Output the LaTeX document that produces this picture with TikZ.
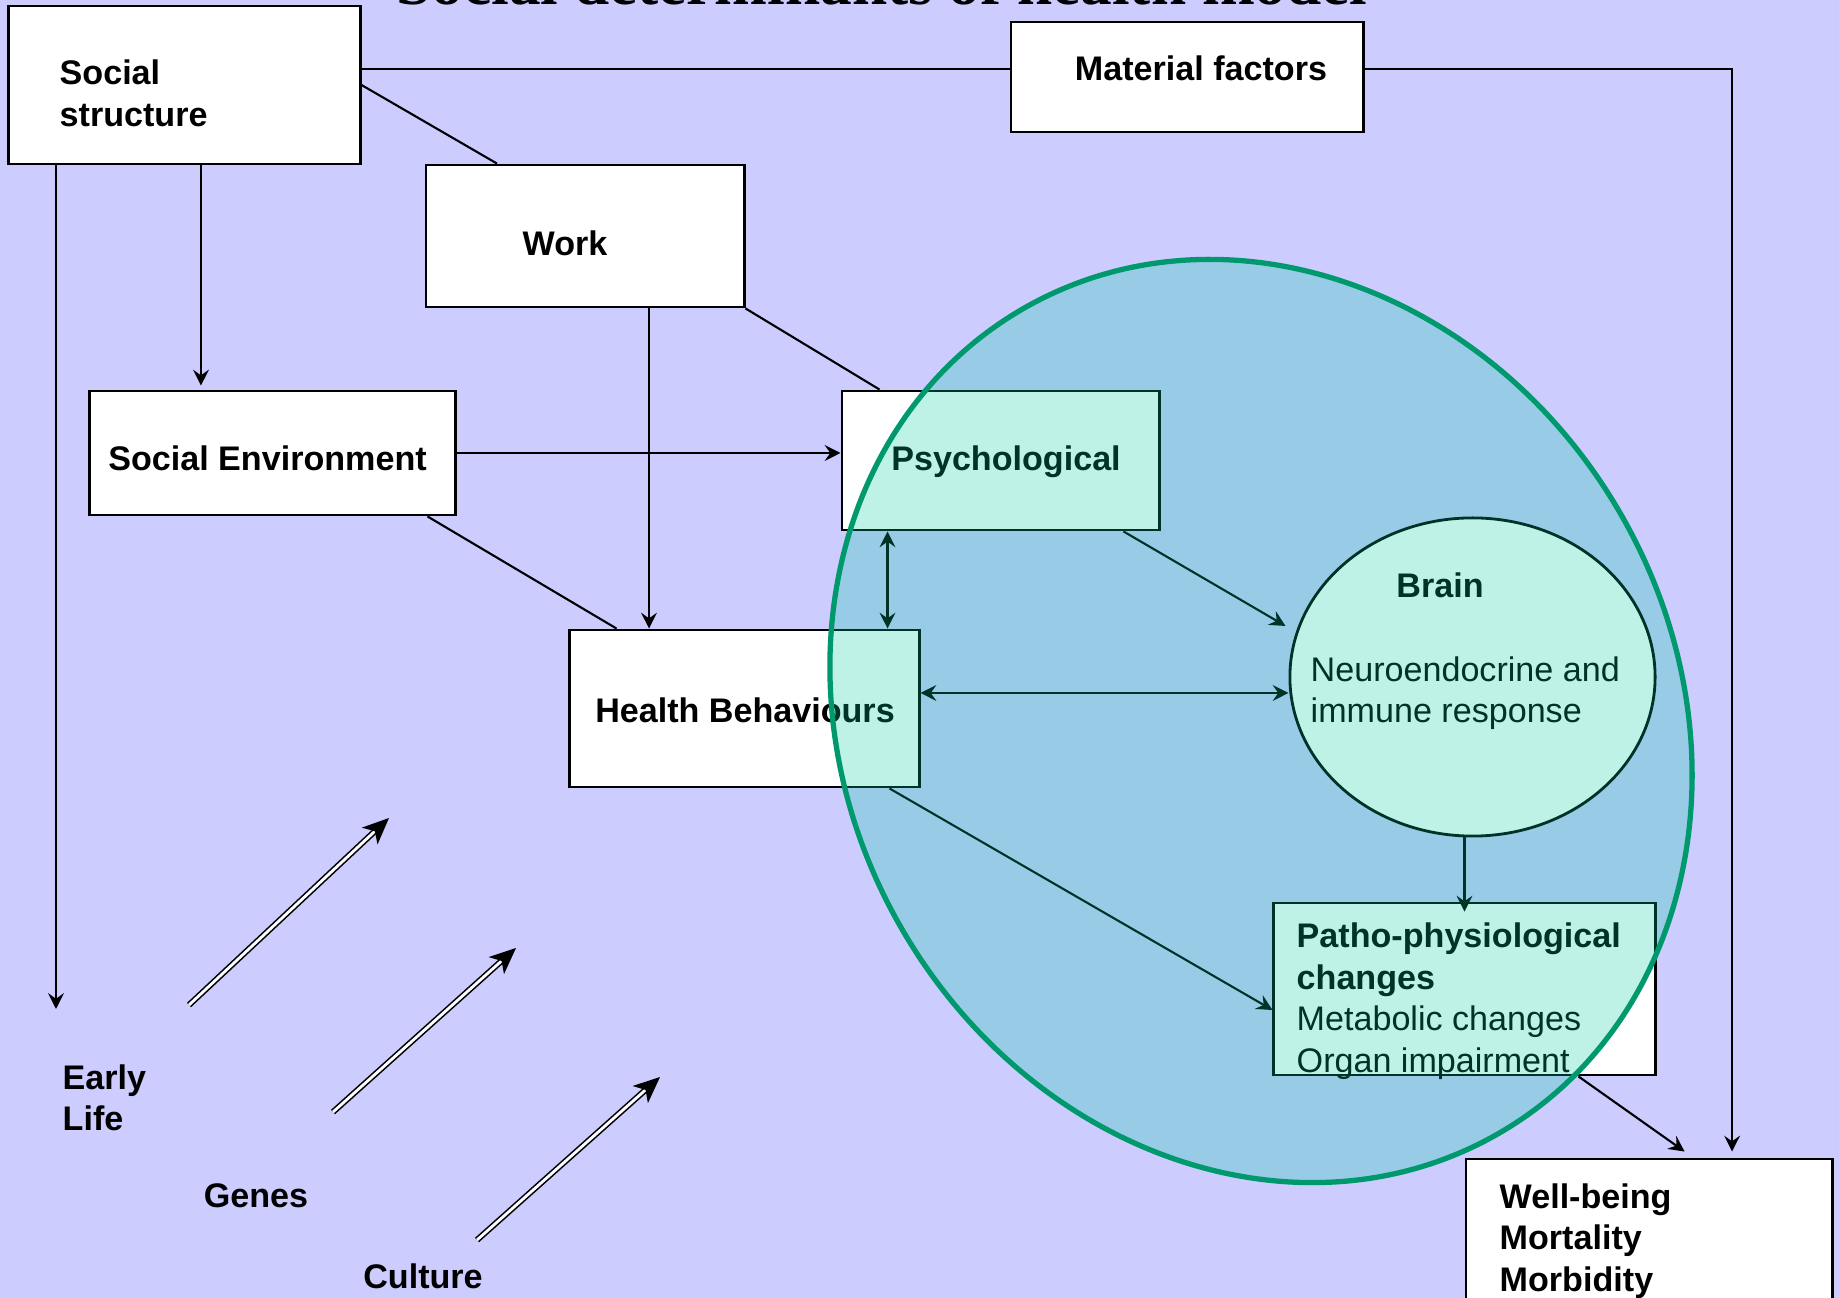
\documentclass[tikz,border=0pt]{standalone}
\usepackage{fontspec}
\setmainfont{Liberation Sans}
\newfontfamily\titlefont{Liberation Serif}
\usetikzlibrary{arrows.meta,shapes.geometric}

\definecolor{backdrop}{HTML}{CCCCFF}
\definecolor{veil}{HTML}{00CC9C}
\definecolor{rim}{HTML}{00996E}

\begin{document}
\begin{tikzpicture}[x=0.01cm, y=-0.01cm,
    box/.style={draw=black, fill=white, line width=0.8pt, inner sep=0pt},
    txt/.style={font=\fontsize{9.7}{11.8}\selectfont\bfseries, align=left, inner sep=0pt},
    normaltxt/.style={font=\fontsize{9.7}{11.8}\selectfont, align=left, inner sep=0pt},
    link/.style={line width=0.6pt},
    arr/.style={link, -{Stealth[length=4.5pt,width=4.5pt,inset=1.6pt]}},
    both/.style={link, {Stealth[length=4.5pt,width=4.5pt,inset=1.6pt]}-{Stealth[length=4.5pt,width=4.5pt,inset=1.6pt]}},
    bigarrow/.style={double, double distance=0.8pt, line width=0.45pt, -{Stealth[length=7.5pt,width=6.5pt,inset=2pt]}}]

\useasboundingbox (0,0) rectangle (1839,1298);
\fill[backdrop] (0,0) rectangle (1839,1298);

% Title (cut off at the top)
\node[font=\titlefont\bfseries\fontsize{18}{20}\selectfont, anchor=base] (title) at (882,5) {Social determinants of health model};

% Boxes
\node[box, minimum width=3.51cm, minimum height=1.58cm] (social) at (184.5,85) {};
\node[box, minimum width=3.52cm, minimum height=1.10cm] (material) at (1187,77) {};
\node[box, minimum width=3.18cm, minimum height=1.42cm] (work) at (585,236) {};
\node[box, minimum width=3.65cm, minimum height=1.24cm] (socenv) at (272.5,453) {};
\node[box, minimum width=3.17cm, minimum height=1.39cm] (psych) at (1000.5,460.5) {};
\node[box, minimum width=3.49cm, minimum height=1.57cm] (health) at (744.5,708.5) {};
\node[box, ellipse, minimum width=3.65cm, minimum height=3.18cm] (brain) at (1472.5,677) {};
\node[box, minimum width=3.81cm, minimum height=1.72cm] (patho) at (1464.5,989) {};
\node[box, minimum width=3.66cm, minimum height=1.61cm] (wellbeing) at (1649,1239.5) {};

% Texts
\node[txt, anchor=west] (social-t) at (59,93.5) {Social\\structure};
\node[txt] (material-t) at (1201,68) {Material factors};
\node[txt] (work-t) at (565,243) {Work};
\node[txt] (socenv-t) at (267.5,458.5) {Social Environment};
\node[txt] (psych-t) at (1006,462) {Psychological};
\node[txt] (health-t) at (745,710) {Health Behaviours};
\node[txt] (brain-t) at (1440,585) {Brain};
\node[normaltxt, anchor=west] (brain-s) at (1310,693) {Neuroendocrine and\\immune response};
\node[normaltxt, anchor=west] (patho-t) at (1296,1001) {\textbf{Patho-physiological}\\\textbf{changes}\\Metabolic changes\\Organ impairment};
\node[txt, anchor=west] (wellbeing-t) at (1499,1241) {Well-being\\Mortality\\Morbidity};
\node[txt, anchor=west] (early) at (62,1098) {Early\\Life};
\node[txt] (genes) at (256,1196) {Genes};
\node[txt] (culture) at (423,1276) {Culture};

% Top route
\coordinate (ss-out) at ([yshift=0.16cm]social.east);
\coordinate (mf-out) at ([yshift=0.08cm]material.east);
\coordinate (wb-in) at ([xshift=0.83cm,yshift=0.06cm]wellbeing.north);
\draw[link] (ss-out) -- (ss-out -| material.west);
\draw[arr] (mf-out) -| (wb-in);

% Left side
\coordinate (early-in) at (56,1009);
\coordinate (se-in) at ([xshift=-0.715cm,yshift=0.04cm]socenv.north);
\draw[arr] (social.south west -| early-in) -- (early-in);
\draw[arr] (social.south -| se-in) -- (se-in);
\draw[link] (social.east) -- ([xshift=-0.88cm]work.north);
\draw[arr] (socenv.east) -- (socenv.east -| psych.west);
\draw[link] ([xshift=-0.29cm]socenv.south east) -- ([xshift=0.48cm]health.north west);

% Work
\coordinate (wk-out) at ([xshift=0.64cm]work.south);
\draw[arr] (wk-out) -- (wk-out |- health.north);
\draw[link] (work.south east) -- ([xshift=0.39cm]psych.north west);

% Inner links
\coordinate (ps-out) at ([xshift=0.47cm]psych.south west);
\coordinate (hb-out) at ([yshift=0.155cm]health.east);
\draw[both] (ps-out) -- (ps-out |- health.north);
\draw[both] (hb-out) -- (hb-out -| brain.west);
\draw[arr] ([xshift=-0.37cm]psych.south east) -- ([xshift=-0.03cm,yshift=0.51cm]brain.west);
\draw[arr] ([xshift=-0.31cm]health.south east) -- ([yshift=-0.21cm]patho.west);
\draw[arr] (brain.south -| patho.north) -- ([yshift=-0.1cm]patho.north);
\draw[arr] ([xshift=-0.78cm]patho.south east) -- ([xshift=2.2cm,yshift=0.06cm]wellbeing.north west);

% Early life, genes, culture
\coordinate (g1-from) at (189,1005);
\coordinate (g1-to) at (389,818);
\coordinate (g2-from) at (333,1112);
\coordinate (g2-to) at (516,948);
\coordinate (g3-from) at (477,1240);
\coordinate (g3-to) at (660,1077);
\foreach \i in {1,2,3}
  \draw[bigarrow] (g\i-from) -- (g\i-to);

% Big ellipse on top
\fill[veil, opacity=0.25, rotate around={30:(1261,721)}] (1261,721) ellipse [x radius=415, y radius=476];
\draw[rim, line width=1.5pt, rotate around={30:(1261,721)}] (1261,721) ellipse [x radius=415, y radius=476];

\end{tikzpicture}
\end{document}
